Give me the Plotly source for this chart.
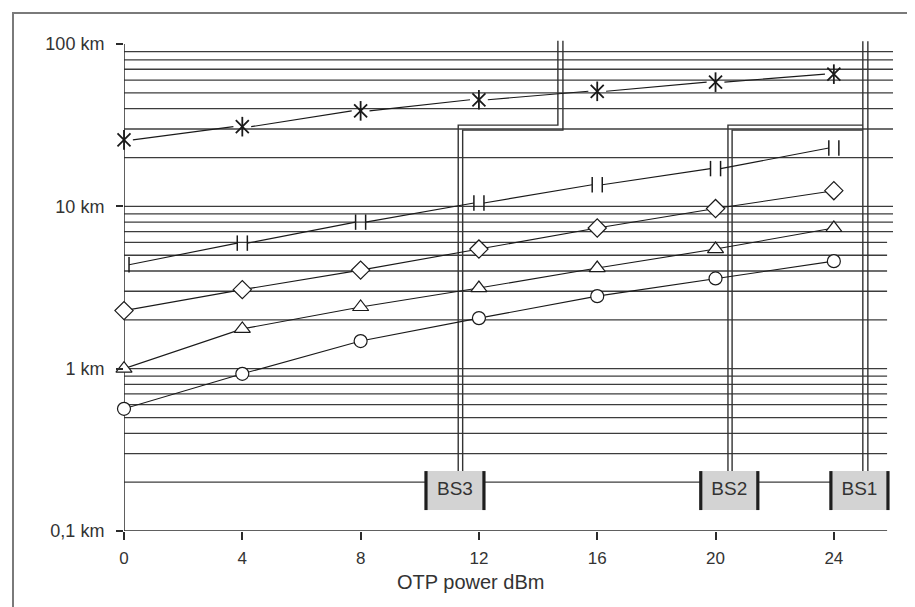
import plotly.graph_objects as go

# ---------------- data ----------------
x_power = [0, 4, 8, 12, 16, 20, 24]                       # OTP power dBm
s_asterisk = [25.7, 31.0, 38.8, 45.4, 51.2, 58.3, 65.3]   # km
s_bars = [4.37, 5.94, 8.0, 10.5, 13.6, 17.1, 22.9]
s_diamond = [2.28, 3.07, 4.05, 5.46, 7.36, 9.7, 12.5]
s_triangle = [1.0, 1.76, 2.40, 3.14, 4.17, 5.46, 7.36]
s_circle = [0.566, 0.93, 1.48, 2.05, 2.8, 3.6, 4.6]

x_ticks = [0, 4, 8, 12, 16, 20, 24]
y_ticks = [0.1, 1, 10, 100]
y_ticktext = ["0,1 km", "1 km", "10 km", "100 km"]
grid_values = [0.2, 0.3, 0.4, 0.5, 0.6, 0.7, 0.8, 0.9,
               1, 2, 3, 4, 5, 6, 7, 8, 9,
               10, 20, 30, 40, 50, 60, 70, 80, 90]

# base stations (power position of box edges, in dBm)
bs_names = ["BS3", "BS2", "BS1"]
bs_left = [10.21, 19.5, 23.9]
bs_right = [12.17, 21.43, 25.83]
bs_low, bs_high = 0.1346, 0.234          # km band of the boxes
# coverage channels (double lines)
bs3_outer_x = [11.30, 11.30, 14.67, 14.67]
bs3_inner_x = [11.45, 11.45, 14.84, 14.84]
bs2_outer_x = [20.42, 20.42, 24.98]
bs2_inner_x = [20.56, 20.56, 24.98]
bs1_x = [24.98, 25.15]
step_upper, step_lower, channel_top = 31.7, 29.5, 105

INK = "#2b2b2b"
MK = "#1a1a1a"
FONT = "Liberation Sans, Arial, sans-serif"

fig = go.Figure()

# grid lines
gx, gy = [], []
for v in grid_values:
    gx += [0, 26.0 if v >= 7 else 25.8, None]
    gy += [v, v, None]
fig.add_trace(go.Scatter(x=gx, y=gy, mode="lines", line=dict(color="#3c3c3c", width=1.3),
                         hoverinfo="skip", cliponaxis=False))

# axes lines
fig.add_trace(go.Scatter(x=[0, 0], y=[0.1, 100], mode="lines", line=dict(color=INK, width=1.5),
                         cliponaxis=False, hoverinfo="skip"))
fig.add_trace(go.Scatter(x=[0, 25.8], y=[0.1, 0.1], mode="lines", line=dict(color=INK, width=1.5),
                         cliponaxis=False, hoverinfo="skip"))

# base station boxes
for name, xl, xr in zip(bs_names, bs_left, bs_right):
    fig.add_trace(go.Scatter(x=[xl, xr, xr, xl, xl], y=[bs_low, bs_low, bs_high, bs_high, bs_low],
                             fill="toself", fillcolor="#d3d3d3", mode="lines",
                             line=dict(width=0, color="rgba(0,0,0,0)"), hoverinfo="skip",
                             cliponaxis=False))
    fig.add_trace(go.Scatter(x=[xl, xl, None, xr, xr], y=[bs_low, bs_high, None, bs_low, bs_high],
                             mode="lines", line=dict(color="#1e1e1e", width=3.2),
                             hoverinfo="skip", cliponaxis=False))
fig.add_trace(go.Scatter(x=[(a + b) / 2 for a, b in zip(bs_left, bs_right)],
                         y=[(bs_low * bs_high) ** 0.5] * 3, mode="text", text=bs_names,
                         textfont=dict(size=19, color="#333333", family=FONT),
                         hoverinfo="skip", cliponaxis=False))

# coverage channels
ch_style = dict(color="#333333", width=1.4)
chans = [
    (bs3_outer_x, [bs_high, step_upper, step_upper, channel_top]),
    (bs3_inner_x, [bs_high, step_lower, step_lower, channel_top]),
    (bs2_outer_x, [bs_high, step_upper, step_upper]),
    (bs2_inner_x, [bs_high, step_lower, step_lower]),
    ([bs1_x[0], bs1_x[0]], [bs_high, channel_top - 1]),
    ([bs1_x[1], bs1_x[1]], [bs_high, channel_top - 1]),
]
for cx, cy in chans:
    fig.add_trace(go.Scatter(x=cx, y=cy, mode="lines", line=ch_style, hoverinfo="skip",
                             cliponaxis=False))


def gapped(xs, ys, gap):
    px, py = [], []
    for i in range(len(xs) - 1):
        px += [xs[i] + gap, xs[i + 1] - gap, None]
        py += [ys[i], ys[i + 1], None]
    return px, py


SER = dict(color=MK, width=1.1)

# asterisk series
ax_, ay_ = gapped(x_power, s_asterisk, 0.3)
fig.add_trace(go.Scatter(x=ax_, y=ay_, mode="lines", line=SER, cliponaxis=False, hoverinfo="skip"))
for sym, size in (("x-thin-open", 13), ("line-ns-open", 14)):
    fig.add_trace(go.Scatter(x=x_power, y=s_asterisk, mode="markers", cliponaxis=False,
                             marker=dict(symbol=sym, size=size, color=MK,
                                         line=dict(color=MK, width=1.8))))

# "II" series
bx_, by_ = gapped(x_power, s_bars, 0.17)
fig.add_trace(go.Scatter(x=bx_, y=by_, mode="lines", line=SER, cliponaxis=False, hoverinfo="skip"))
for off in (-0.17, 0.17):
    fig.add_trace(go.Scatter(x=[v + off for v in x_power], y=s_bars, mode="markers", cliponaxis=False,
                             marker=dict(symbol="line-ns-open", size=11, color=MK,
                                         line=dict(color=MK, width=1.5))))

# open marker series
for ys, sym, size in ((s_diamond, "diamond", 14), (s_triangle, "triangle-up", 14), (s_circle, "circle", 13)):
    fig.add_trace(go.Scatter(x=x_power, y=ys, mode="lines+markers", line=SER, cliponaxis=False,
                             marker=dict(symbol=sym, size=size, color="white",
                                         line=dict(color=MK, width=1.2))))

# outer frame
L, R, T, B = 116, 885, 28, 523
W, H = R - L, B - T
fig.add_shape(type="rect", xref="paper", yref="paper",
              x0=(5 - L) / W, x1=(911 - L) / W, y0=(B - 603) / H, y1=(B - 5) / H,
              line=dict(color="#7a7a7a", width=2))

fig.add_annotation(x=11.7, xref="x", y=(B - 587) / H, yref="paper", text="OTP power dBm",
                   showarrow=False, font=dict(size=20, color="#333333", family=FONT))

fig.update_layout(
    width=915, height=607, showlegend=False,
    margin=dict(l=L, r=915 - R, t=T, b=607 - B),
    paper_bgcolor="white", plot_bgcolor="white",
    font=dict(family=FONT, color="#333333"),
    xaxis=dict(range=[0, 26], showgrid=False, zeroline=False, showline=False,
               tickvals=x_ticks, ticks="outside", ticklen=8, tickwidth=1.5, tickcolor=INK,
               ticklabelstandoff=4, tickfont=dict(size=17, color="#333333")),
    yaxis=dict(type="log", range=[-1, 2.05], showgrid=False, zeroline=False, showline=False,
               tickvals=y_ticks, ticktext=y_ticktext, ticks="outside", ticklen=7, tickwidth=1.5,
               tickcolor=INK, ticklabelstandoff=8, tickfont=dict(size=18, color="#333333")),
)

fig.write_html("out.html")
